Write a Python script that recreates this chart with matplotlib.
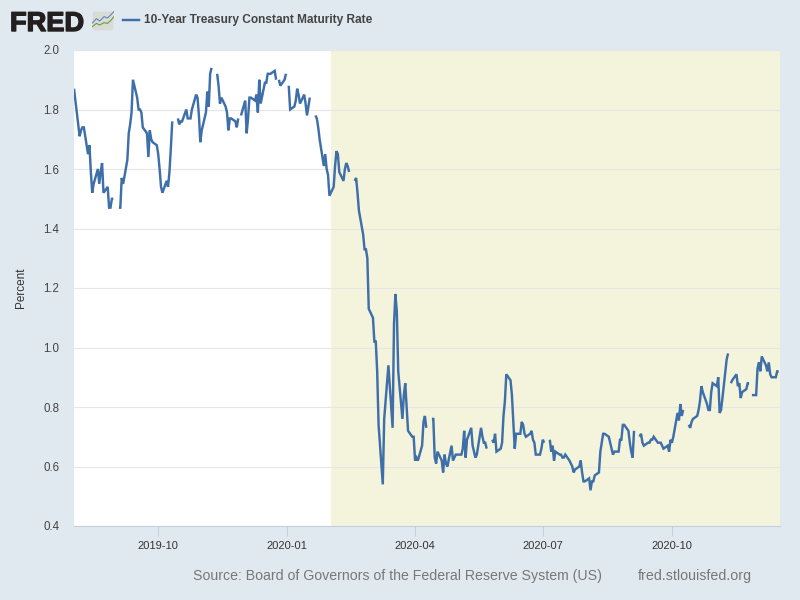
import numpy as np
import pandas as pd
import matplotlib
matplotlib.use("Agg")
import matplotlib.pyplot as plt
import matplotlib.patheffects as pe
from matplotlib.patches import FancyBboxPatch

plt.rcParams['font.family'] = ['Liberation Sans', 'DejaVu Sans']
N = np.nan

# Business-day readings, month by month (NaN = market holiday)
aug19 = [1.87, 1.75,1.71,1.73,1.74,1.74, 1.65,1.68,1.59,1.52,1.55, 1.60,1.55,1.59,1.62,1.52, 1.54,1.47,1.47,1.50,1.50]
sep19 = [N,1.47,1.47,1.57,1.55, 1.63,1.72,1.75,1.79,1.90, 1.84,1.80,1.80,1.79,1.74, 1.72,1.64,1.73,1.70,1.69, 1.68]
oct19 = [1.65,1.60,1.54,1.52, 1.56,1.54,1.59,1.67,1.76, N,1.77,1.75,1.76,1.76, 1.80,1.77,1.77,1.77,1.80, 1.85,1.84,1.78,1.69]
nov19 = [1.73, 1.79,1.86,1.81,1.92,1.94, N,1.92,1.88,1.82,1.84, 1.81,1.79,1.73,1.77,1.77, 1.76,1.74,1.77,N,1.78]
dec19 = [1.83,1.72,1.77,1.84,1.84, 1.83,1.85,1.79,1.90,1.82, 1.89,1.89,1.92,1.92,1.92, 1.93,1.90,N,1.90,1.88, 1.90,1.92]
jan20 = [N,1.88,1.80, 1.81,1.83,1.87,1.85,1.82, 1.85,1.82,1.78,1.81,1.84, N,1.78,1.77,1.74,1.70, 1.61,1.65,1.60,1.58,1.51]
feb20 = [1.54,1.61,1.66,1.65,1.59, 1.56,1.60,1.62,1.61,1.59, N,1.56,1.57,1.52,1.46, 1.38,1.33,1.33,1.30,1.13]
mar20 = [1.10,1.02,1.02,0.92,0.74, 0.54,0.76,0.82,0.88,0.94, 0.73,1.08,1.18,1.12,0.92, 0.76,0.84,0.88,0.80,0.72, 0.70,0.70]
apr20 = [0.62,0.63,0.62, 0.67,0.75,0.77,0.73,N, 0.76,0.76,0.63,0.61,0.65, 0.62,0.58,0.64,0.61,0.60, 0.67,0.62,0.63,0.64]
may20 = [0.64, 0.64,0.66,0.72,0.63,0.69, 0.73,0.67,0.65,0.63,0.64, 0.73,0.70,0.68,0.68,0.66, N,0.69,0.68,0.71,0.65]
jun20 = [0.66,0.68,0.77,0.82,0.91, 0.89,0.84,0.75,0.66,0.71, 0.71,0.75,0.74,0.71,0.70, 0.71,0.72,0.69,0.68,0.64, 0.64,0.66]
jul20 = [0.69,0.68,N, 0.69,0.65,0.67,0.62,0.65, 0.64,0.64,0.63,0.63,0.64, 0.62,0.61,0.60,0.58,0.59, 0.60,0.62,0.58,0.55,0.55]
aug20 = [0.56,0.52,0.55,0.55,0.57, 0.58,0.65,0.68,0.71,0.71, 0.70,0.68,0.66,0.64,0.65, 0.65,0.69,0.69,0.74,0.74, 0.72]
sep20 = [0.68,0.65,0.63,0.72, N,0.70,0.71,0.68,0.67, 0.68,0.68,0.69,0.69,0.70, 0.68,0.68,0.68,0.67,0.66, 0.67,0.65,0.69]
oct20 = [0.68,0.70, 0.78,0.755,0.81,0.77,0.79, N,0.74,0.73,0.75,0.76, 0.77,0.79,0.82,0.87,0.85, 0.81,0.79,0.79,0.85,0.88]
nov20 = [0.87,0.90,0.78,0.79,0.83, 0.96,0.98,N,0.88,0.89, 0.91,0.87,0.88,0.83,0.85, 0.86,0.88,0.88,N,0.84, 0.84]
dec20 = [0.93,0.95,0.92,0.97, 0.94,0.92,0.95,0.91,0.90, 0.90,0.92,0.92]

months = [('2019-08-02','2019-08-31',aug19),('2019-09-01','2019-09-30',sep19),('2019-10-01','2019-10-31',oct19),
          ('2019-11-01','2019-11-30',nov19),('2019-12-01','2019-12-31',dec19),('2020-01-01','2020-01-31',jan20),
          ('2020-02-01','2020-02-29',feb20),('2020-03-01','2020-03-31',mar20),('2020-04-01','2020-04-30',apr20),
          ('2020-05-01','2020-05-31',may20),('2020-06-01','2020-06-30',jun20),('2020-07-01','2020-07-31',jul20),
          ('2020-08-01','2020-08-31',aug20),('2020-09-01','2020-09-30',sep20),('2020-10-01','2020-10-31',oct20),
          ('2020-11-01','2020-11-30',nov20),('2020-12-01','2020-12-16',dec20)]
dates, values = [], []
for a, b, v in months:
    d = pd.bdate_range(a, b)
    assert len(d) == len(v), (a, len(d), len(v))
    dates.extend(d); values.extend(v)

series_name = "10-Year Treasury Constant Maturity Rate"
tick_dates = ['2019-10-01','2020-01-01','2020-04-01','2020-07-01','2020-10-01']
tick_labels = ['2019-10','2020-01','2020-04','2020-07','2020-10']
y_ticks = [0.4,0.6,0.8,1.0,1.2,1.4,1.6,1.8,2.0]
recession_start = '2020-02-01'

BG = '#e1e9f0'; LINE = '#3f6fa8'; W, H = 800, 600
fig = plt.figure(figsize=(8, 6), dpi=100, facecolor=BG)
ax = fig.add_axes([74/W, 1-526/H, 706/W, 476/H], facecolor='white')

xmin, xmax = pd.Timestamp('2019-08-02'), pd.Timestamp('2020-12-17')
ax.axvspan(pd.Timestamp(recession_start), xmax, color='#f4f4dc', lw=0, zorder=0)
ax.set_yticks(y_ticks)
ax.yaxis.grid(True, color='#e6e6e6', lw=0.8, zorder=1)
ax.set_axisbelow(True)
ax.plot(dates, values, color=LINE, lw=1.75, zorder=3, solid_joinstyle='miter', solid_capstyle='butt')
ax.set_xlim(xmin, xmax); ax.set_ylim(0.4, 2.0)

ax.set_xticks([pd.Timestamp(t) for t in tick_dates])
ax.set_xticklabels(tick_labels)
ax.set_yticklabels([f'{v:.1f}' for v in y_ticks])
ax.tick_params(axis='x', length=7, width=0.8, color='#c0d0e0', labelsize=8, labelcolor='#333333', pad=4)
ax.tick_params(axis='y', length=0, labelsize=8.3, labelcolor='#444444', pad=10.5)
for s in ['top','left','right']:
    ax.spines[s].set_visible(False)
ax.spines['bottom'].set_color('#c0d0e0'); ax.spines['bottom'].set_linewidth(0.8)
ax.set_ylabel('Percent', fontsize=8.5, color='#333333', labelpad=12)

def fx(x): return x/W
def fy(y): return 1-y/H

logo = fig.text(fx(10), fy(31), 'FRED', fontsize=19.6, fontweight='bold', color='#231f20', va='baseline', ha='left')
logo.set_path_effects([pe.withStroke(linewidth=1.0, foreground='#231f20')])
fig.lines.append(plt.Line2D([fx(123), fx(139)], [fy(19.5), fy(19.5)], transform=fig.transFigure, color=LINE, lw=1.75))
fig.text(fx(144), fy(23.5), series_name, fontsize=8.6, fontweight='bold', color='#444444', va='baseline', ha='left')

# small logo icon
icon = fig.add_axes([92/W, 1-31/H, 22/W, 20/H])
icon.set_xlim(0, 1); icon.set_ylim(0, 1); icon.axis('off')
icon.add_patch(FancyBboxPatch((0.03,0.03),0.94,0.94,boxstyle='round,pad=0,rounding_size=0.1',fc='#d9dcd6',ec='none'))
icon.plot([0.02,0.2,0.35,0.55,0.7,0.85,1],[0.4,0.62,0.5,0.72,0.65,0.8,0.98],color='#5b87b5',lw=0.8)
icon.plot([0.02,0.2,0.35,0.55,0.7,0.85,1],[0.22,0.38,0.3,0.42,0.38,0.52,0.72],color='#6f9a3c',lw=0.8)

fig.text(fx(193), fy(580), 'Source: Board of Governors of the Federal Reserve System (US)', fontsize=10.15, color='#777777', va='baseline', ha='left')
fig.text(fx(638), fy(580), 'fred.stlouisfed.org', fontsize=10.3, color='#777777', va='baseline', ha='left')

fig.savefig('out.png', dpi=100, facecolor=BG)
